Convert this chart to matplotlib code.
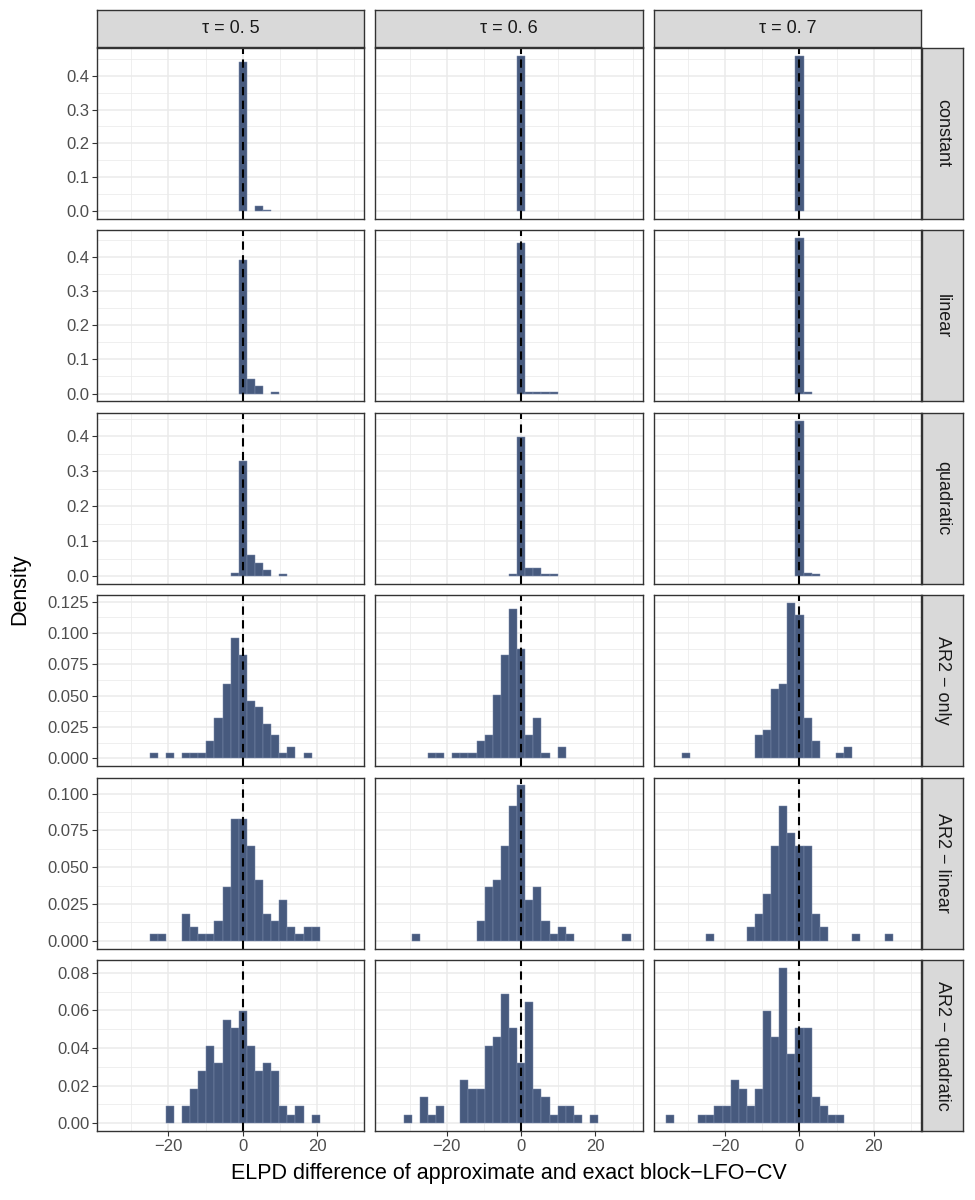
import numpy as np
import matplotlib.pyplot as plt

plt.rcParams['font.family'] = ['Liberation Sans', 'DejaVu Sans']

# Facets
tau_labels = ["τ = 0. 5", "τ = 0. 6", "τ = 0. 7"]
model_labels = ["constant", "linear", "quadratic",
                "AR2 − only", "AR2 − linear", "AR2 − quadratic"]

# Histogram layout (30 bins shared by all panels, one bin centred on 0)
bin_width = 2.18
bin_index = np.arange(-16, 14)

# Counts per bin (100 values per panel), columns tau = 0.5, 0.6, 0.7
constant_05 = [0, 0, 0, 0, 0, 0, 0, 0, 0, 0, 0, 0, 0, 0, 0, 0, 96, 0, 3, 1, 0, 0, 0, 0, 0, 0, 0, 0, 0, 0]
constant_06 = [0, 0, 0, 0, 0, 0, 0, 0, 0, 0, 0, 0, 0, 0, 0, 0, 100, 0, 0, 0, 0, 0, 0, 0, 0, 0, 0, 0, 0, 0]
constant_07 = [0, 0, 0, 0, 0, 0, 0, 0, 0, 0, 0, 0, 0, 0, 0, 0, 100, 0, 0, 0, 0, 0, 0, 0, 0, 0, 0, 0, 0, 0]

linear_05 = [0, 0, 0, 0, 0, 0, 0, 0, 0, 0, 0, 0, 0, 0, 0, 0, 85, 9, 5, 0, 1, 0, 0, 0, 0, 0, 0, 0, 0, 0]
linear_06 = [0, 0, 0, 0, 0, 0, 0, 0, 0, 0, 0, 0, 0, 0, 0, 0, 96, 1, 1, 1, 1, 0, 0, 0, 0, 0, 0, 0, 0, 0]
linear_07 = [0, 0, 0, 0, 0, 0, 0, 0, 0, 0, 0, 0, 0, 0, 0, 0, 99, 1, 0, 0, 0, 0, 0, 0, 0, 0, 0, 0, 0, 0]

quadratic_05 = [0, 0, 0, 0, 0, 0, 0, 0, 0, 0, 0, 0, 0, 0, 0, 2, 72, 13, 8, 4, 0, 1, 0, 0, 0, 0, 0, 0, 0, 0]
quadratic_06 = [0, 0, 0, 0, 0, 0, 0, 0, 0, 0, 0, 0, 0, 0, 0, 1, 87, 5, 5, 1, 1, 0, 0, 0, 0, 0, 0, 0, 0, 0]
quadratic_07 = [0, 0, 0, 0, 0, 0, 0, 0, 0, 0, 0, 0, 0, 0, 0, 0, 97, 2, 1, 0, 0, 0, 0, 0, 0, 0, 0, 0, 0, 0]

ar2_only_05 = [0, 0, 0, 0, 0, 1, 0, 1, 0, 1, 1, 1, 3, 7, 13, 21, 18, 10, 9, 6, 4, 1, 2, 0, 1, 0, 0, 0, 0, 0]
ar2_only_06 = [0, 0, 0, 0, 0, 1, 1, 0, 1, 1, 1, 3, 4, 11, 18, 26, 19, 4, 7, 1, 0, 2, 0, 0, 0, 0, 0, 0, 0, 0]
ar2_only_07 = [0, 0, 1, 0, 0, 0, 0, 0, 0, 0, 0, 4, 5, 12, 13, 27, 25, 7, 3, 0, 0, 1, 2, 0, 0, 0, 0, 0, 0, 0]

ar2_linear_05 = [0, 0, 0, 0, 0, 1, 1, 0, 0, 4, 2, 1, 1, 3, 8, 18, 18, 14, 9, 4, 3, 6, 2, 1, 2, 2, 0, 0, 0, 0]
ar2_linear_06 = [0, 0, 0, 1, 0, 0, 0, 0, 0, 0, 0, 3, 8, 9, 14, 20, 23, 6, 8, 3, 1, 2, 1, 0, 0, 0, 0, 0, 0, 1]
ar2_linear_07 = [0, 0, 0, 0, 0, 1, 0, 0, 0, 0, 2, 4, 7, 14, 20, 16, 14, 14, 4, 2, 0, 0, 0, 1, 0, 0, 0, 1, 0, 0]

ar2_quadratic_05 = [0, 0, 0, 0, 0, 0, 0, 2, 0, 2, 4, 6, 9, 7, 12, 11, 13, 9, 6, 7, 6, 2, 1, 2, 0, 1, 0, 0, 0, 0]
ar2_quadratic_06 = [0, 0, 1, 0, 3, 1, 2, 0, 0, 5, 4, 4, 9, 10, 15, 11, 7, 14, 4, 3, 1, 2, 2, 1, 0, 1, 0, 0, 0, 0]
ar2_quadratic_07 = [1, 0, 0, 0, 1, 1, 2, 2, 5, 4, 2, 4, 13, 10, 18, 8, 11, 11, 3, 2, 1, 1, 0, 0, 0, 0, 0, 0, 0, 0]

rows = [
    [constant_05, constant_06, constant_07],
    [linear_05, linear_06, linear_07],
    [quadratic_05, quadratic_06, quadratic_07],
    [ar2_only_05, ar2_only_06, ar2_only_07],
    [ar2_linear_05, ar2_linear_06, ar2_linear_07],
    [ar2_quadratic_05, ar2_quadratic_06, ar2_quadratic_07],
]

# y ticks per row
row_yticks = [
    [0, 0.1, 0.2, 0.3, 0.4],
    [0, 0.1, 0.2, 0.3, 0.4],
    [0, 0.1, 0.2, 0.3, 0.4],
    [0, 0.025, 0.05, 0.075, 0.1, 0.125],
    [0, 0.025, 0.05, 0.075, 0.1],
    [0, 0.02, 0.04, 0.06, 0.08],
]
row_fmt = ["{:.1f}", "{:.1f}", "{:.1f}", "{:.3f}", "{:.3f}", "{:.2f}"]

# -------------------------------
# Layout (pixels)
# -------------------------------
W, H = 975, 1200
left, right = 97, 921
top, bottom = 48, 1131
hgap, vgap = 11, 11.5
pw = (right - left - 2 * hgap) / 3
ph = (bottom - top - 5 * vgap) / 6
strip_h = 37
strip_w = 41

fill = "#475a7e"
edge = "#7b8bab"
grid_c = "#ebebeb"
dark = "#333333"

fig = plt.figure(figsize=(W / 100, H / 100), dpi=100)

centers = bin_index * bin_width
bar_lo = centers[0] - bin_width / 2
bar_hi = centers[-1] + bin_width / 2
pad = 0.05 * (bar_hi - bar_lo)
xlim = (bar_lo - pad, bar_hi + pad)

for r in range(6):
    dens_row = [np.array(c) / (np.sum(c) * bin_width) for c in rows[r]]
    ymax = max(d.max() for d in dens_row)
    ylim = (-0.05 * ymax, 1.05 * ymax)
    yt = row_yticks[r]
    ystep = yt[1] - yt[0]
    yminor = [v + ystep / 2 for v in yt if v + ystep / 2 < ylim[1]]
    for c in range(3):
        x0 = left + c * (pw + hgap)
        y0 = top + r * (ph + vgap)
        ax = fig.add_axes([x0 / W, 1 - (y0 + ph) / H, pw / W, ph / H])
        ax.set_xlim(*xlim)
        ax.set_ylim(*ylim)

        for v in [-30, -10, 10, 30]:
            ax.axvline(v, color=grid_c, lw=0.55, zorder=0)
        for v in [-20, 0, 20]:
            ax.axvline(v, color=grid_c, lw=1.1, zorder=0)
        for v in yminor:
            ax.axhline(v, color=grid_c, lw=0.55, zorder=0)
        for v in yt:
            ax.axhline(v, color=grid_c, lw=1.1, zorder=0)

        d = dens_row[c]
        mask = d > 0
        ax.bar(centers[mask], d[mask], width=bin_width, color=fill,
               edgecolor=edge, linewidth=0.35, zorder=2)
        ax.axvline(0, color="black", lw=1.5, linestyle=(0, (4, 2.6)), zorder=3)

        for s in ax.spines.values():
            s.set_color(dark)
            s.set_linewidth(1.0)
            s.set_zorder(5)

        ax.set_xticks([-20, 0, 20])
        ax.set_yticks(yt)
        ax.tick_params(length=3.5, width=0.8, color=dark, labelsize=12,
                       labelcolor="#4d4d4d", pad=2)
        if r == 5:
            ax.set_xticklabels(["−20", "0", "20"])
        else:
            ax.tick_params(axis="x", bottom=False, labelbottom=False)
        if c == 0:
            ax.set_yticklabels([row_fmt[r].format(v) for v in yt])
        else:
            ax.tick_params(axis="y", left=False, labelleft=False)

        # top strips
        if r == 0:
            sax = fig.add_axes([x0 / W, 1 - (y0 - 1) / H, pw / W, strip_h / H])
            sax.set_facecolor("#d9d9d9")
            sax.set_xticks([])
            sax.set_yticks([])
            for s in sax.spines.values():
                s.set_color(dark)
                s.set_linewidth(1.0)
            sax.text(0.5, 0.5, tau_labels[c], ha="center", va="center",
                     fontsize=13, color="#1a1a1a", transform=sax.transAxes)
        # right strips
        if c == 2:
            sax = fig.add_axes([(x0 + pw + 1) / W, 1 - (y0 + ph) / H, strip_w / W, ph / H])
            sax.set_facecolor("#d9d9d9")
            sax.set_xticks([])
            sax.set_yticks([])
            for s in sax.spines.values():
                s.set_color(dark)
                s.set_linewidth(1.0)
            sax.text(0.5, 0.5, model_labels[r], ha="center", va="center",
                     rotation=-90, fontsize=13, color="#1a1a1a",
                     transform=sax.transAxes)

fig.text((left + right) / 2 / W, 1 - 1173 / H,
         "ELPD difference of approximate and exact block−LFO−CV",
         ha="center", va="center", fontsize=15.5)
fig.text(20 / W, 1 - (top + bottom) / 2 / H, "Density", rotation=90,
         ha="center", va="center", fontsize=15.5)

fig.savefig("out.png", dpi=100)
